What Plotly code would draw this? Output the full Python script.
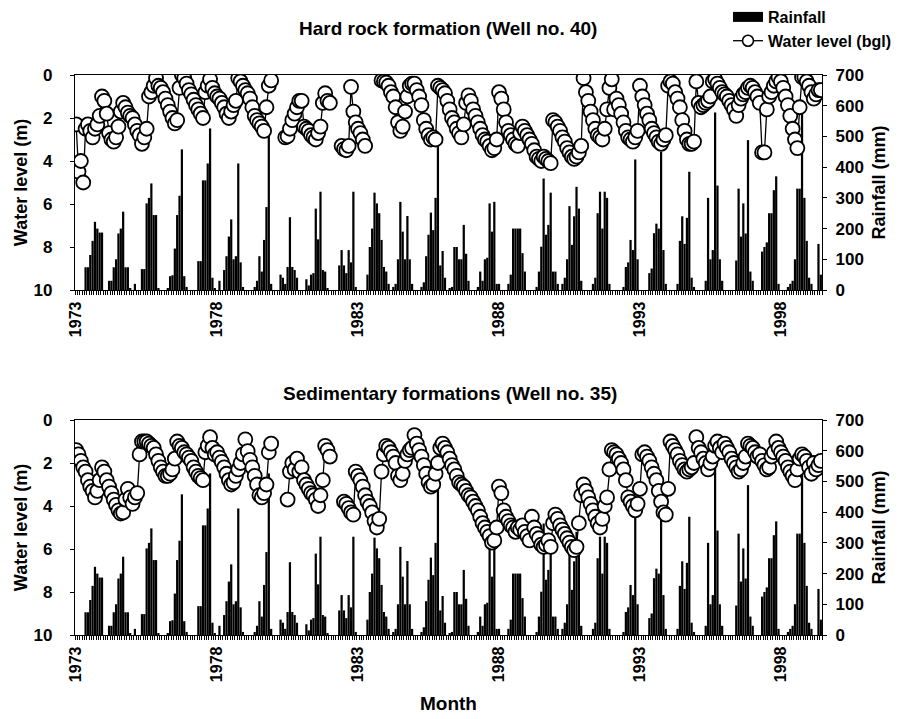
import plotly.graph_objects as go

year_labels = ["1973", "1978", "1983", "1988", "1993", "1998"]
label_index = [0, 60, 120, 180, 240, 300]

rainfall_mm = [
    0, 0, 0, 0, 74, 74, 114, 160, 222, 200, 187, 187,          # 1973
    0, 0, 30, 30, 74, 100, 184, 200, 255, 74, 74, 5,           # 1974
    0, 20, 0, 0, 68, 68, 282, 300, 347, 244, 244, 5,           # 1975
    0, 0, 0, 5, 45, 48, 135, 244, 307, 458, 45, 10,            # 1976
    0, 0, 0, 0, 94, 94, 357, 357, 412, 526, 40, 5,             # 1977
    0, 30, 0, 65, 110, 174, 230, 100, 110, 412, 90, 10,        # 1978
    0, 0, 0, 0, 10, 30, 110, 60, 163, 270, 526, 20,            # 1979
    0, 0, 0, 50, 40, 20, 75, 237, 75, 65, 40, 0,               # 1980
    0, 0, 35, 15, 50, 55, 265, 165, 320, 65, 60, 5,            # 1981
    0, 0, 0, 0, 80, 130, 80, 55, 130, 90, 320, 10,             # 1982
    0, 0, 0, 0, 50, 140, 200, 317, 282, 250, 163, 75,          # 1983
    60, 20, 0, 10, 20, 100, 287, 190, 100, 241, 100, 20,       # 1984
    0, 0, 0, 10, 25, 110, 180, 252, 195, 300, 488, 80,         # 1985
    127, 40, 0, 5, 10, 140, 140, 100, 100, 212, 118, 30,       # 1986
    0, 0, 0, 10, 60, 30, 100, 105, 282, 190, 287, 20,          # 1987
    20, 0, 0, 0, 20, 50, 200, 200, 200, 200, 120, 60,          # 1988
    0, 0, 0, 0, 10, 60, 141, 363, 180, 212, 317, 60,           # 1989
    60, 20, 0, 20, 40, 100, 273, 147, 240, 336, 265, 30,       # 1990
    0, 0, 0, 0, 20, 40, 250, 320, 200, 320, 300, 20,           # 1991
    0, 0, 0, 0, 0, 10, 75, 90, 163, 130, 425, 100,             # 1992
    0, 0, 0, 0, 55, 70, 185, 216, 200, 450, 130, 20,           # 1993
    0, 0, 0, 0, 20, 160, 240, 150, 235, 385, 40, 10,           # 1994
    0, 0, 0, 0, 30, 300, 100, 130, 578, 340, 100, 30,          # 1995
    0, 0, 0, 0, 0, 96, 330, 174, 282, 184, 488, 60,            # 1996
    30, 0, 0, 0, 125, 140, 155, 250, 250, 325, 370, 20,        # 1997
    0, 0, 0, 10, 20, 30, 100, 330, 330, 608, 300, 160,         # 1998
    40, 20, 0, 0, 150, 50,                                     # 1999
]

N = None
wl_hard_rock = [
    2.3, 4.5, 4.0, 5.0, 2.5, 2.3, 2.6, 2.9, 2.5, 2.3, 1.9, 1.0,
    1.2, 1.8, 2.7, 3.0, 3.1, 2.9, 2.4, 1.7, 1.3, 1.5, 1.75, 1.9,
    2.0, 2.3, 2.6, 2.8, 3.2, 2.9, 2.5, 1.0, 0.8, 0.5, 0.15, 0.5,
    0.6, 0.8, 1.1, 1.4, 1.7, 2.0, 2.25, 2.1, 0.6, 0.0, 0.15, 0.4,
    0.7, 0.9, 1.15, 1.4, 1.6, 1.8, 2.0, 0.8, 0.5, 0.2, 0.6, 0.85,
    1.0, 1.1, 1.3, 1.5, 1.8, 2.0, 1.7, 1.4, 1.2, 0.15, 0.3, 0.5,
    0.7, 0.85, 1.1, 1.5, 1.9, 2.1, 2.25, 2.4, 2.6, 1.5, 0.5, 0.25,
    N, N, N, N, N, 2.9, 2.85, 2.5, 2.1, 1.8, 1.5, 1.2,
    1.2, 2.4, 2.5, 2.6, 2.8, 2.9, 3.0, 2.7, 2.4, 1.3, 0.85, 1.2,
    1.3, N, N, N, N, 3.3, 3.45, 3.5, 3.3, 0.55, 1.7, 2.2,
    2.5, 2.7, 3.0, 3.3, N, N, N, N, N, N, 0.25, 0.3,
    0.35, 0.5, 0.8, 1.0, 1.5, 2.2, 2.6, 2.4, 1.7, 1.0, 0.5, 0.4,
    0.4, 0.7, 1.0, 1.4, 2.1, 2.5, 2.8, 3.0, 2.9, 3.0, 0.5, 0.6,
    0.7, 0.85, 1.2, 1.6, 2.0, 2.2, 2.5, 2.7, 2.9, 2.3, 1.3, 0.95,
    1.2, 1.6, 1.9, 2.2, 2.5, 2.8, 3.0, 3.1, 3.3, 3.5, 3.4, 3.0,
    0.8, 1.1, 1.6, 2.2, 2.6, 2.8, 3.0, 3.2, 3.3, 2.7, 2.4, 2.6,
    2.8, 3.0, 3.2, 3.5, 3.8, 3.9, 4.0, 3.8, 3.9, 4.0, 4.1, 2.1,
    2.2, 2.4, 2.6, 2.9, 3.1, 3.4, 3.6, 3.8, 3.9, 3.8, 3.6, 3.3,
    0.15, 0.8, 1.2, 1.7, 2.1, 2.5, 2.8, 2.9, 3.0, 2.5, 1.6, 0.6,
    0.2, 1.6, 1.1, 1.4, 1.8, 2.2, 2.6, 2.9, 3.0, 3.1, 2.9, 2.6,
    0.5, 1.0, 1.4, 1.8, 2.1, 2.5, 2.7, 2.9, 3.1, 3.2, 3.0, 2.8,
    0.5, 0.3, 0.4, 0.8, 1.1, 1.5, 2.1, 2.6, 3.0, 3.2, 3.2, 3.1,
    0.3, 1.3, 1.5, 1.4, 1.3, 1.2, 1.0, 0.3, 0.2, 0.4, 0.6, 0.8,
    0.9, 1.0, 1.2, 1.4, 1.6, 1.9, 1.4, 1.1, 0.9, 0.8, 0.6, 0.5,
    0.6, 0.8, 1.0, 1.3, 3.6, 3.6, 1.6, 1.0, 0.8, 0.5, 0.3, 0.1,
    0.3, 0.6, 1.0, 1.4, 1.9, 2.5, 3.0, 3.4, 1.5, 0.1, 0.1, 0.3,
    0.5, 0.8, 1.1, 0.9, 0.7, 0.7,
]

wl_sedimentary = [
    1.4, 1.6, 1.9, 2.2, 2.4, 2.8, 3.1, 3.3, 3.6, 3.3, 2.8, 2.2,
    2.4, 2.8, 3.1, 3.4, 3.7, 3.95, 4.2, 4.35, 4.3, 3.7, 3.2, 3.6,
    3.9, 3.6, 3.4, 1.6, 1.0, 1.0, 1.0, 1.1, 1.2, 1.3, 1.6, 1.9,
    2.2, 2.4, 2.6, 2.6, 2.5, 2.3, 1.8, 1.0, 1.2, 1.3, 1.5, 1.6,
    1.75, 1.9, 2.2, 2.4, 2.6, 2.7, 2.8, 1.5, 1.2, 0.8, 1.3, 1.6,
    1.5, 1.75, 1.95, 2.2, 2.5, 2.8, 3.0, 2.9, 2.6, 2.3, 2.0, 1.6,
    0.9, 1.45, 1.85, 2.2, 2.6, 3.0, 3.5, 3.6, 3.4, 3.0, 1.5, 1.1,
    N, N, N, N, N, N, 3.7, 2.4, 2.0, 2.3, 1.8, 2.4,
    2.2, 2.8, 3.0, 3.2, 3.4, 3.5, 3.7, 4.0, 3.5, 2.8, 1.2, 1.4,
    1.7, N, N, N, N, N, 3.8, 3.9, 4.1, 4.3, 4.4, 2.4,
    2.6, 2.8, 3.1, 3.5, 3.8, 4.0, 4.3, 4.7, 5.0, 4.6, 2.4, 1.6,
    1.2, 1.3, 1.5, 1.7, 2.0, 2.6, 2.8, 2.5, 1.9, 1.6, 1.4, 1.3,
    0.7, 1.1, 1.4, 1.7, 2.1, 2.5, 2.9, 3.1, 3.0, 2.5, 2.0, 1.3,
    1.1, 1.3, 1.5, 1.8, 2.1, 2.3, 2.6, 2.9, 3.0, 3.1, 3.3, 3.5,
    3.6, 3.8, 4.0, 4.2, 4.5, 4.8, 5.0, 5.2, 5.4, 5.7, 5.6, 5.0,
    3.1, 3.4, 4.2, 4.5, 4.7, 4.9, 5.0, 5.2, 5.0, 5.1, 4.9, 5.2,
    5.4, 5.6, 4.5, 5.0, 5.3, 5.5, 5.8, 5.9, 5.8, 5.6, 5.9, 4.8,
    4.4, 4.6, 4.9, 5.1, 5.3, 5.5, 5.7, 5.9, 6.05, 5.9, 4.8, 3.5,
    3.0, 3.3, 3.6, 3.9, 4.2, 4.5, 4.8, 5.0, 4.6, 4.0, 3.6, 2.3,
    1.4, 1.5, 1.6, 1.8, 2.0, 2.3, 2.8, 3.6, 3.8, 4.0, 4.2, 3.9,
    3.2, 1.6, 1.5, 1.7, 1.9, 2.2, 2.5, 2.8, 3.3, 3.8, 4.3, 4.4,
    3.2, 1.0, 1.2, 1.4, 1.6, 1.9, 2.1, 2.3, 2.4, 2.3, 2.2, 2.0,
    0.8, 1.3, 1.5, 1.8, 2.0, 2.3, 2.0, 1.7, 1.2, 1.0, 1.3, 1.5,
    1.1, 1.3, 1.5, 1.8, 2.0, 2.2, 2.4, 2.3, 2.0, 1.7, 1.1, 1.2,
    1.3, 1.5, 1.7, 1.6, 1.9, 2.1, 2.3, 2.2, 1.7, 1.5, 1.0, 1.3,
    1.5, 1.7, 1.9, 2.2, 2.4, 2.6, 2.8, 2.3, 1.8, 1.6, 1.7, 1.9,
    2.2, 2.5, 2.0, 2.3, 2.1, 1.9,
]

months = list(range(len(rainfall_mm)))

# the page body adds an 8 px margin, so the figure is sized to fit after it
OFF = 8
W, H = 891, 711
FONT = "Liberation Sans"
BLACK = "#000000"

def px_x(p):
    return (p - OFF) / W

def px_y(p):
    return 1 - (p - OFF) / H

x_dom = [px_x(75), px_x(822)]
top_dom = [px_y(290), px_y(75)]
bot_dom = [px_y(635), px_y(420)]

fig = go.Figure()

marker = dict(symbol="circle", size=14, color="white",
              line=dict(color=BLACK, width=1.8))

fig.add_trace(go.Bar(x=months, y=rainfall_mm, xaxis="x", yaxis="y",
                     marker=dict(color=BLACK, line=dict(width=0)),
                     name="Rainfall", showlegend=False))
fig.add_trace(go.Scatter(x=months, y=wl_hard_rock, xaxis="x", yaxis="y2",
                         mode="lines+markers", connectgaps=False,
                         line=dict(color=BLACK, width=1.3), marker=marker,
                         name="Water level (bgl)", showlegend=False))
fig.add_trace(go.Bar(x=months, y=rainfall_mm, xaxis="x2", yaxis="y3",
                     marker=dict(color=BLACK, line=dict(width=0)),
                     showlegend=False))
fig.add_trace(go.Scatter(x=months, y=wl_sedimentary, xaxis="x2", yaxis="y4",
                         mode="lines+markers", connectgaps=False,
                         line=dict(color=BLACK, width=1.3), marker=marker,
                         showlegend=False))
# legend entries (the rainfall key is drawn as a wide black block, as in the original)
fig.add_trace(go.Scatter(x=[None], y=[None], xaxis="x", yaxis="y",
                         mode="lines", line=dict(color=BLACK, width=12),
                         name="Rainfall", legendgroup="rain", showlegend=True))
fig.add_trace(go.Scatter(x=[None], y=[None], xaxis="x", yaxis="y2",
                         mode="lines+markers", line=dict(color=BLACK, width=1.3),
                         marker=dict(symbol="circle", size=11, color="white",
                                     line=dict(color=BLACK, width=1.6)),
                         name="Water level (bgl)", legendgroup="wl",
                         showlegend=True))

tickfont = dict(family=FONT, size=17, color=BLACK, weight="bold")
xtickfont = dict(family=FONT, size=16, color=BLACK, weight="bold")
axtitlefont = dict(family=FONT, size=18, color=BLACK, weight="bold")
titlefont = dict(family=FONT, size=19, color=BLACK, weight="bold")

def xaxis_cfg(anchor, title=None):
    d = dict(domain=x_dom, anchor=anchor, range=[-0.5, len(months) - 0.5],
             tickmode="array", tickvals=label_index, ticktext=year_labels,
             tickangle=-90, tickfont=xtickfont, ticks="",
             ticklabelstandoff=4,
             minor=dict(ticks="outside", dtick=1, tick0=-0.5, ticklen=4,
                        tickcolor=BLACK, tickwidth=1),
             showline=True, linecolor=BLACK, linewidth=1.3, mirror=True,
             showgrid=False, zeroline=False, automargin=False)
    if title:
        d["title"] = dict(text=title, font=dict(family=FONT, size=19,
                                                 color=BLACK, weight="bold"),
                          standoff=15)
    return d

def rain_axis(dom, anchor):
    return dict(domain=dom, anchor=anchor, side="right", range=[0, 700],
                tickmode="array", tickvals=list(range(0, 701, 100)),
                ticks="outside", ticklen=4, tickcolor=BLACK,
                ticklabelstandoff=5,
                tickfont=tickfont, showline=True, linecolor=BLACK,
                linewidth=1.3, showgrid=False, zeroline=False,
                automargin=False,
                title=dict(text="Rainfall (mm)", font=axtitlefont, standoff=9))

def wl_axis(overlay, anchor):
    return dict(overlaying=overlay, anchor=anchor, side="left",
                range=[10, 0], tickmode="array",
                tickvals=[0, 2, 4, 6, 8, 10],
                ticks="outside", ticklen=4, tickcolor=BLACK,
                ticklabelstandoff=14,
                tickfont=tickfont, showline=True, linecolor=BLACK,
                linewidth=1.3, showgrid=False, zeroline=False,
                automargin=False,
                title=dict(text="Water level (m)", font=axtitlefont, standoff=1))

fig.update_layout(
    width=W, height=H,
    margin=dict(l=0, r=0, t=0, b=0, autoexpand=False),
    paper_bgcolor="white", plot_bgcolor="white",
    bargap=0.05,
    font=dict(family=FONT, color=BLACK),
    xaxis=xaxis_cfg("y"),
    yaxis=rain_axis(top_dom, "x"),
    yaxis2=wl_axis("y", "x"),
    xaxis2=xaxis_cfg("y3", "Month"),
    yaxis3=rain_axis(bot_dom, "x2"),
    yaxis4=wl_axis("y3", "x2"),
    legend=dict(x=px_x(728), y=px_y(0), xanchor="left", yanchor="top",
                font=dict(family=FONT, size=16, color=BLACK, weight="bold"),
                bgcolor="rgba(0,0,0,0)", tracegroupgap=5, itemwidth=30,
                traceorder="normal"),
    annotations=[
        dict(text="Hard rock formation (Well no. 40)", x=px_x(448),
             y=px_y(28), xref="paper", yref="paper", showarrow=False,
             xanchor="center", yanchor="middle", font=titlefont),
        dict(text="Sedimentary formations (Well no. 35)", x=px_x(450),
             y=px_y(393), xref="paper", yref="paper", showarrow=False,
             xanchor="center", yanchor="middle", font=titlefont),
    ],
)

fig.write_html("out.html")
